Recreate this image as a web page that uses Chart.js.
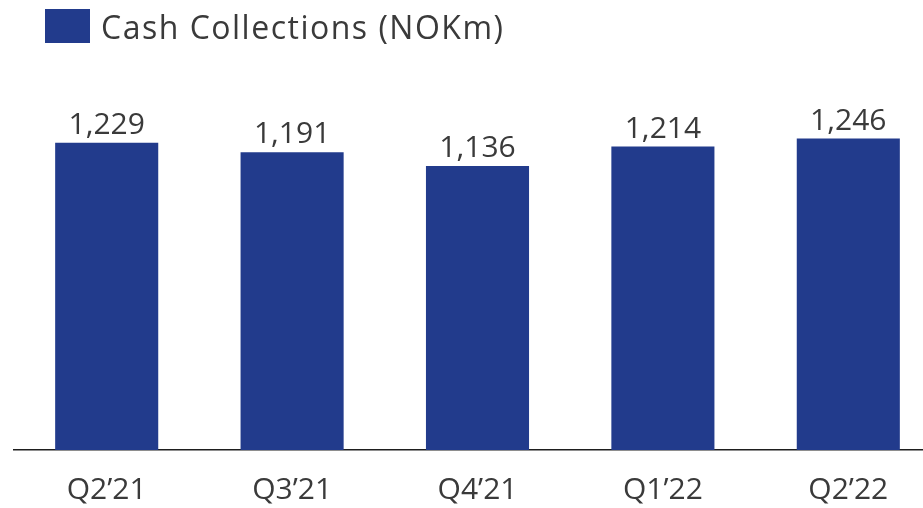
<!DOCTYPE html>
<html>
<head>
<meta charset="utf-8">
<script src="https://cdn.jsdelivr.net/npm/chart.js@4/dist/chart.umd.min.js"></script>
<style>
  html, body { margin: 0; padding: 0; background: #ffffff; overflow: hidden; }
  #wrap { width: 923px; height: 508px; overflow: hidden; position: relative; }
  canvas { display: block; }
</style>
</head>
<body>
<div id="wrap"><canvas id="c" width="941" height="508"></canvas></div>
<script>
const categories = ["Q2\u201921", "Q3\u201921", "Q4\u201921", "Q1\u201922", "Q2\u201922"];
const cashCollections = [1229, 1191, 1136, 1214, 1246];
const seriesLabel = "Cash Collections (NOKm)";
const yMin = 0;
const yMax = 1600;

const BAR_COLOR = "#223b8c";
const TEXT_COLOR = "#3a3a3a";
const FONT = "'Open Sans', 'Noto Sans', sans-serif";

const fmt = v => v.toLocaleString("en-US");

const valueLabels = {
  id: "valueLabels",
  afterDatasetsDraw(chart) {
    const ctx = chart.ctx;
    const meta = chart.getDatasetMeta(0);
    ctx.save();
    ctx.font = "30px " + FONT;
    ctx.fillStyle = TEXT_COLOR;
    ctx.textAlign = "center";
    ctx.textBaseline = "alphabetic";
    meta.data.forEach((bar, i) => {
      ctx.fillText(fmt(chart.data.datasets[0].data[i]), bar.x, bar.y - 9);
    });
    ctx.restore();
  }
};

const customLegend = {
  id: "customLegend",
  afterDraw(chart) {
    const ctx = chart.ctx;
    const ds = chart.data.datasets[0];
    ctx.save();
    ctx.fillStyle = ds.backgroundColor;
    ctx.fillRect(45, 9, 45, 34);
    ctx.font = "32px " + FONT;
    if ("letterSpacing" in ctx) ctx.letterSpacing = "1.5px";
    ctx.fillStyle = TEXT_COLOR;
    ctx.textAlign = "left";
    ctx.textBaseline = "alphabetic";
    ctx.fillText(ds.label, 101, 39);
    ctx.restore();
  }
};

new Chart(document.getElementById("c"), {
  type: "bar",
  data: {
    labels: categories,
    datasets: [{
      label: seriesLabel,
      data: cashCollections,
      backgroundColor: BAR_COLOR,
      borderWidth: 0,
      barPercentage: 0.556,
      categoryPercentage: 1.0
    }]
  },
  options: {
    responsive: false,
    devicePixelRatio: 1,
    animation: false,
    layout: { padding: { left: 14, right: 0, top: 50, bottom: 0 } },
    plugins: {
      legend: { display: false },
      tooltip: { enabled: false }
    },
    scales: {
      x: {
        offset: true,
        grid: { display: false, drawTicks: false },
        border: { display: true, color: "#1e1e1e", width: 1.5 },
        ticks: {
          color: TEXT_COLOR,
          font: { family: FONT, size: 30 },
          padding: 22,
          maxRotation: 0,
          autoSkip: false
        },
        afterFit(scale) { scale.height = 58; }
      },
      y: {
        display: false,
        min: yMin,
        max: yMax
      }
    }
  },
  plugins: [valueLabels, customLegend]
});
</script>
</body>
</html>
